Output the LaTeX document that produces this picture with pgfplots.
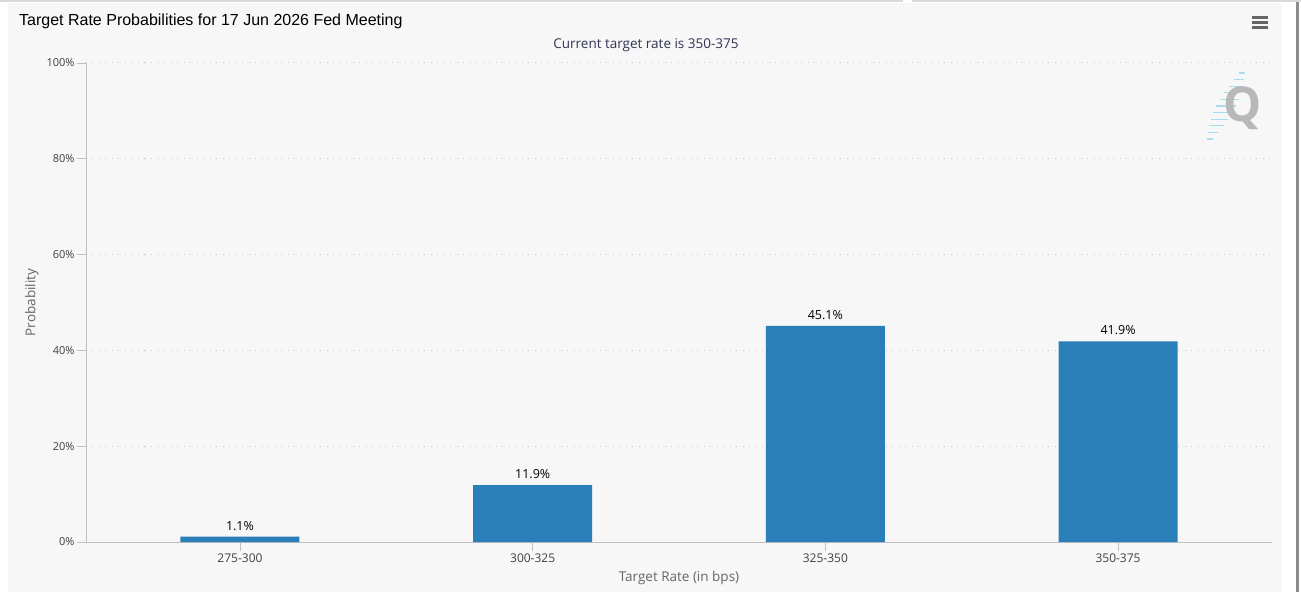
\documentclass[border=0pt]{standalone}
\usepackage{pgfplots}
\pgfplotsset{compat=1.18}
\usepackage{fontspec}
\setmainfont{Open Sans}
\newfontfamily\arial{Liberation Sans}
\definecolor{bg}{HTML}{F7F7F7}
\definecolor{barblue}{HTML}{2A7FB8}
\definecolor{axgray}{HTML}{C0C0C0}
\definecolor{txtgray}{HTML}{666666}
\definecolor{subblue}{HTML}{333355}
\definecolor{qblue}{HTML}{A8DDF0}
\begin{document}
\begin{tikzpicture}
\path[use as bounding box] (0pt,0pt) rectangle (1301pt,592pt);
\fill[white] (0pt,0pt) rectangle (1301pt,592pt);
\fill[bg] (8pt,0pt) rectangle (1282pt,589pt);
\fill[black!45] (1296pt,0pt) rectangle (1299pt,592pt);
\draw[black!15,line width=1.5pt] (0pt,591.2pt) -- (903pt,591.2pt);
\draw[black!15,line width=1.5pt] (912pt,591.2pt) -- (1301pt,591.2pt);
% title
\node[anchor=west, inner sep=0, font=\arial\fontsize{16}{18}\selectfont] at (19pt,571pt) {Target Rate Probabilities for 17 Jun 2026 Fed Meeting};
\node[inner sep=0, text=subblue, font=\fontsize{13.5}{15}\selectfont] at (646pt,547pt) {Current target rate is 350-375};
% menu icon
\foreach \yy in {574.5,569.5,564.5} \fill[black!60] (1252pt,\yy pt-1.3pt) rectangle (1268pt,\yy pt+1.3pt);
% logo
\foreach \i in {0,...,10} {
  \pgfmathsetmacro{\yy}{519-\i*6.6}
  \pgfmathsetmacro{\xx}{1242-\i*3.2}
  \pgfmathsetmacro{\ll}{3+7*sin(\i*18)}
  \draw[qblue,line width=1.3pt] (\xx pt-\ll pt,\yy pt) -- (\xx pt+\ll pt,\yy pt);
}
\node[inner sep=0, text=black!28, font=\fontsize{48}{50}\selectfont\bfseries] at (1243pt,484pt) {Q};
\begin{axis}[
  at={(86pt,50pt)}, anchor=south west, scale only axis,
  width=1186pt, height=479pt,
  xmin=-0.526, xmax=3.526, ymin=0, ymax=100,
  ybar, bar width=119pt,
  axis x line*=bottom, axis y line*=left,
  axis line style={axgray, -},
  xtick={0,1,2,3},
  xticklabels={275-300,300-325,325-350,350-375},
  ytick={0,20,40,60,80,100},
  yticklabel={\pgfmathprintnumber{\tick}\%},
  /pgf/number format/assume math mode=true,
  tick align=outside,
  major tick length=9pt,
  tick style={axgray, line width=0.8pt},
  ymajorgrids,
  grid style={line width=1pt, black!20, dash pattern=on 1pt off 5.5pt},
  tick label style={text=black!75},
  yticklabel style={font=\fontsize{11}{13}\selectfont, xshift=1pt},
  xticklabel style={font=\fontsize{12}{14}\selectfont, yshift=1pt},
  xlabel={Target Rate (in bps)},
  ylabel={Probability},
  label style={text=txtgray, font=\fontsize{13.5}{15}\selectfont},
  xlabel style={yshift=-2pt},
  ylabel style={yshift=1pt},
  nodes near coords={\pgfmathprintnumber[fixed,precision=1,fixed zerofill]{\pgfplotspointmeta}\%},
  nodes near coords style={text=black, font=\fontsize{12.5}{14}\selectfont, yshift=3pt},
  clip=false,
]
\addplot[fill=barblue, draw=none] coordinates {(0,1.1) (1,11.9) (2,45.1) (3,41.9)};
\end{axis}
\end{tikzpicture}
\end{document}
